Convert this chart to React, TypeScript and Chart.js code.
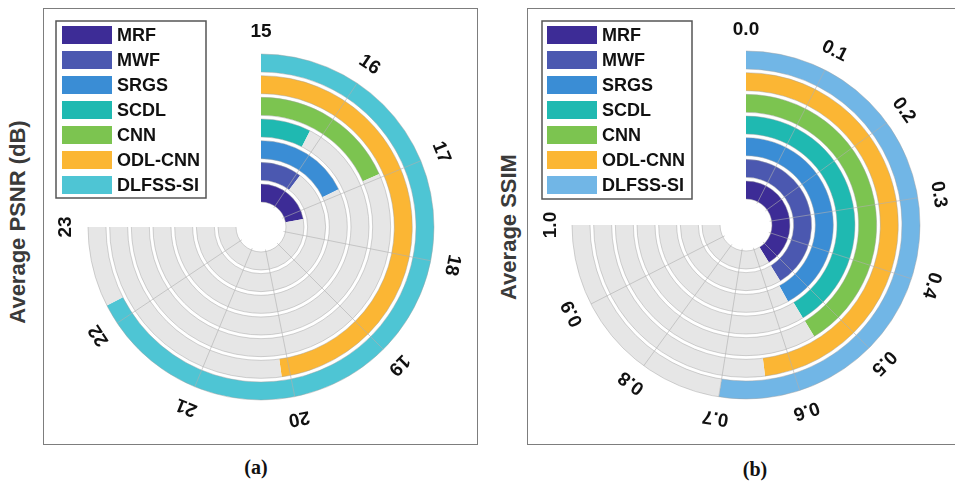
import { useEffect, useRef } from 'react';
import { Chart, registerables } from 'chart.js';

Chart.register(...registerables);

// Methods, innermost ring first
const methods = ['MRF', 'MWF', 'SRGS', 'SCDL', 'CNN', 'ODL-CNN', 'DLFSS-SI'];

// Average PSNR (dB) per method
const psnrValues = [17.35, 16.1, 16.9, 15.8, 16.95, 20.1, 22.2];
// Average SSIM per method
const ssimValues = [0.55, 0.55, 0.56, 0.55, 0.55, 0.64, 0.7];

const psnrTicks = ['15', '16', '17', '18', '19', '20', '21', '22', '23'];
const ssimTicks = ['0.0', '0.1', '0.2', '0.3', '0.4', '0.5', '0.6', '0.7', '0.8', '0.9', '1.0'];

const psnrMin = 15;
const psnrMax = 23;
const ssimMin = 0;
const ssimMax = 1;

const methodColors = ['#3d2c96', '#4b58b0', '#3a8dd5', '#1fb9b1', '#7cc450', '#fbb634'];
const psnrLastColor = '#4ec5d4';
const ssimLastColor = '#71b6e6';
const trackColor = '#e6e6e6';

const SWEEP = 270;
const BAND = 18;
const GAP = 3.67;
const CORE_GAP = 2;

const FONT = "'Liberation Sans', Arial, Helvetica, sans-serif";

type Panel = {
  id: string;
  values: number[];
  ticks: string[];
  min: number;
  max: number;
  lastColor: string;
  left: number;
  top: number;
  width: number;
  height: number;
  padding: { left: number; top: number; right: number; bottom: number };
  radius: number;
  labelGap: number;
  legend: { x: number; y: number; w: number; h: number; swatchX: number; textX: number; firstRow: number };
};

const panels: Panel[] = [
  {
    id: 'psnr',
    values: psnrValues,
    ticks: psnrTicks,
    min: psnrMin,
    max: psnrMax,
    lastColor: psnrLastColor,
    left: 43,
    top: 8,
    width: 435,
    height: 437,
    padding: { left: 45, top: 46, right: 44, bottom: 45 },
    radius: 173,
    labelGap: 22,
    legend: { x: 13, y: 13, w: 150, h: 177, swatchX: 19, textX: 74, firstRow: 27 },
  },
  {
    id: 'ssim',
    values: ssimValues,
    ticks: ssimTicks,
    min: ssimMin,
    max: ssimMax,
    lastColor: ssimLastColor,
    left: 527,
    top: 8,
    width: 428,
    height: 437,
    padding: { left: 45, top: 43, right: 35, bottom: 46 },
    radius: 174,
    labelGap: 21,
    legend: { x: 15, y: 13, w: 150, h: 178, swatchX: 20, textX: 75, firstRow: 27 },
  },
];

function colorsFor(p: Panel) {
  return methods.map((_, i) => (i === methods.length - 1 ? p.lastColor : methodColors[i]));
}

function buildDatasets(p: Panel) {
  const colors = colorsFor(p);
  const sets: any[] = [];
  // doughnut datasets run from the outside in
  for (let i = methods.length - 1; i >= 0; i--) {
    const v = p.values[i];
    sets.push({
      label: methods[i],
      data: [v - p.min, p.max - v],
      backgroundColor: [colors[i], trackColor],
      borderWidth: 0,
      weight: BAND,
      band: true,
    });
    sets.push({
      label: '',
      data: [1],
      backgroundColor: 'rgba(0,0,0,0)',
      borderWidth: 0,
      weight: i === 0 ? CORE_GAP : GAP,
      band: false,
    });
  }
  return sets;
}

function makeOverlay(p: Panel) {
  return {
    id: 'radialOverlay_' + p.id,
    afterDatasetsDraw(chart: any) {
      const ctx = chart.ctx as CanvasRenderingContext2D;
      const toRad = (deg: number) => (deg * Math.PI) / 180;
      let cx = 0;
      let cy = 0;
      let outer = 0;
      let inner = Infinity;
      const start = -Math.PI / 2;
      const end = start + toRad(SWEEP);

      // thin outline around each ring
      ctx.save();
      ctx.strokeStyle = 'rgba(160,160,160,0.45)';
      ctx.lineWidth = 1;
      chart.data.datasets.forEach((ds: any, di: number) => {
        const arc: any = chart.getDatasetMeta(di).data[0];
        if (!arc) return;
        cx = arc.x;
        cy = arc.y;
        outer = Math.max(outer, arc.outerRadius);
        inner = Math.min(inner, arc.innerRadius);
        if (!ds.band) return;
        [arc.outerRadius, arc.innerRadius].forEach((r: number) => {
          ctx.beginPath();
          ctx.arc(cx, cy, r, start, end);
          ctx.stroke();
        });
      });
      ctx.restore();

      // radial grid lines at each tick
      const n = p.ticks.length - 1;
      ctx.save();
      ctx.strokeStyle = 'rgba(175,175,175,0.6)';
      ctx.lineWidth = 1;
      for (let k = 1; k < n; k++) {
        const a = toRad((k / n) * SWEEP);
        ctx.beginPath();
        ctx.moveTo(cx + inner * Math.sin(a), cy - inner * Math.cos(a));
        ctx.lineTo(cx + outer * Math.sin(a), cy - outer * Math.cos(a));
        ctx.stroke();
      }
      ctx.restore();

      // tangential tick labels
      ctx.save();
      ctx.fillStyle = '#111111';
      ctx.font = `bold 19px ${FONT}`;
      ctx.textAlign = 'center';
      ctx.textBaseline = 'middle';
      const lr = outer + p.labelGap;
      p.ticks.forEach((t, k) => {
        const a = toRad((k / n) * SWEEP);
        ctx.save();
        ctx.translate(cx + lr * Math.sin(a), cy - lr * Math.cos(a));
        ctx.rotate(a);
        ctx.fillText(t, 0, 0);
        ctx.restore();
      });
      ctx.restore();

      // legend
      const L = p.legend;
      const colors = colorsFor(p);
      ctx.save();
      ctx.fillStyle = '#ffffff';
      ctx.fillRect(L.x, L.y, L.w, L.h);
      ctx.strokeStyle = '#555555';
      ctx.lineWidth = 1.5;
      ctx.strokeRect(L.x, L.y, L.w, L.h);
      ctx.font = `bold 18px ${FONT}`;
      ctx.textAlign = 'left';
      ctx.textBaseline = 'middle';
      methods.forEach((m, i) => {
        const y = L.firstRow + i * 25;
        ctx.fillStyle = colors[i];
        ctx.fillRect(L.swatchX, y - 9, 50, 18);
        ctx.fillStyle = '#111111';
        ctx.fillText(m, L.textX, y + 1);
      });
      ctx.restore();
    },
  };
}

function RadialPanel({ p }: { p: Panel }) {
  const ref = useRef<HTMLCanvasElement | null>(null);
  useEffect(() => {
    if (!ref.current) return;
    const ringSpan = methods.length * BAND + (methods.length - 1) * GAP + CORE_GAP;
    const cut = ((p.radius - ringSpan) / p.radius) * 100;
    const chart = new Chart(ref.current, {
      type: 'doughnut',
      data: { labels: ['value', 'rest'], datasets: buildDatasets(p) },
      options: {
        responsive: false,
        animation: false,
        rotation: 0,
        circumference: SWEEP,
        radius: p.radius,
        cutout: `${cut}%`,
        layout: { padding: p.padding },
        plugins: { legend: { display: false }, tooltip: { enabled: false } },
        events: [],
      } as any,
      plugins: [makeOverlay(p)],
    });
    return () => chart.destroy();
  }, [p]);
  return (
    <canvas
      ref={ref}
      width={p.width}
      height={p.height}
      style={{ position: 'absolute', left: p.left, top: p.top, width: p.width, height: p.height }}
    />
  );
}

const frameStyle = (left: number, width: number): React.CSSProperties => ({
  position: 'absolute',
  left,
  top: 8,
  width,
  height: 437,
  border: '1.5px solid #7d7d7d',
  boxSizing: 'border-box',
});

const axisTitle = (cx: number, cy: number): React.CSSProperties => ({
  position: 'absolute',
  left: cx,
  top: cy,
  transform: 'translate(-50%, -50%) rotate(-90deg)',
  whiteSpace: 'nowrap',
  font: `bold 22px ${FONT}`,
  color: '#3a3a3a',
});

const caption = (cx: number, cy: number): React.CSSProperties => ({
  position: 'absolute',
  left: cx,
  top: cy,
  transform: 'translate(-50%, -50%)',
  font: "bold 20px 'Liberation Serif', 'Times New Roman', serif",
  color: '#111',
});

export default function App() {
  return (
    <div
      style={{
        position: 'fixed',
        left: 0,
        top: 0,
        width: 955,
        height: 483,
        overflow: 'hidden',
        background: '#ffffff',
      }}
    >
      <div style={frameStyle(43, 435)} />
      <div style={frameStyle(527, 445)} />
      <div style={axisTitle(18, 222)}>Average PSNR (dB)</div>
      <div style={axisTitle(509, 227)}>Average SSIM</div>
      {panels.map((p) => (
        <RadialPanel key={p.id} p={p} />
      ))}
      <div style={caption(256, 467)}>(a)</div>
      <div style={caption(755, 469)}>(b)</div>
    </div>
  );
}
